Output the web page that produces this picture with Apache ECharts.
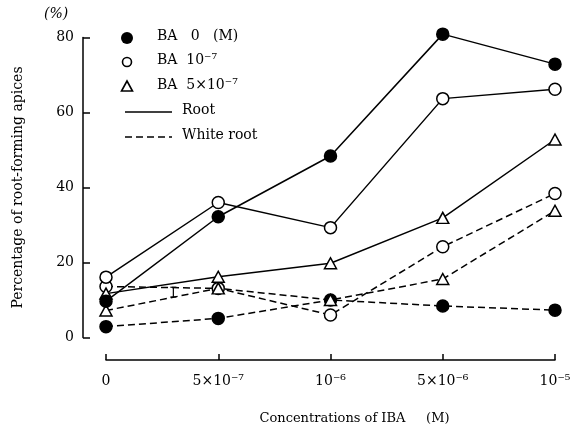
<!DOCTYPE html>
<html>
<head>
<meta charset="utf-8">
<script src="https://cdn.jsdelivr.net/npm/echarts@6/dist/echarts.min.js"></script>
<style>
  html, body { margin: 0; padding: 0; background: #fff; }
  #main { width: 586px; height: 437px; }
</style>
</head>
<body>
<div id="main"></div>
<script>
// IBA concentrations (x positions 0..4 on the axis)
var xLabels = ['0', '5×10⁻⁷', '10⁻⁶', '5×10⁻⁶', '10⁻⁵'];
var yTicks = [0, 20, 40, 60, 80];

// % of root-forming apices
var rootBA0 = [9.7, 32.2, 48.4, 80.9, 72.9];
var rootBA1e7 = [16.1, 36.0, 29.3, 63.7, 66.2];
var rootBA5e7 = [11.7, 16.2, 19.8, 31.9, 52.8];
var whiteBA0 = [2.9, 5.1, 10.0, 8.4, 7.3];
var whiteBA1e7 = [13.6, 13.1, 6.0, 24.2, 38.4];
var whiteBA5e7 = [7.2, 13.1, 10.0, 15.6, 33.8];

// the small "I" bar between 0 and 5x10^-7
var errBar = [[0.6, 10.8, 13.4]];

var FONT = 'DejaVu Serif';

function pts(arr) {
    var out = [];
    for (var i = 0; i < arr.length; i++) out.push([i, arr[i]]);
    return out;
}

var symbolStyle = {
    filled: { symbol: 'circle', symbolSize: 12, color: '#000' },
    open: { symbol: 'circle', symbolSize: 12, color: '#fff' },
    tri: { symbol: 'triangle', symbolSize: [12, 11], color: '#fff' }
};

function mkSeries(name, arr, kind, dashed) {
    var s = symbolStyle[kind];
    return {
        name: name,
        type: 'line',
        data: pts(arr),
        symbol: s.symbol,
        symbolSize: s.symbolSize,
        showAllSymbol: true,
        clip: false,
        animation: false,
        lineStyle: { color: '#000', width: 1.5, type: dashed ? [7, 4] : 'solid' },
        itemStyle: { color: s.color, borderColor: '#000', borderWidth: 1.5 },
        z: dashed ? 2 : 3
    };
}

var chart = echarts.init(document.getElementById('main'));

//图例用graphic手动画
var legendItems = [];
function legendText(x, y, txt) {
    legendItems.push({ type: 'text', left: x, top: y - 9,
        style: { text: txt, font: '14px "' + FONT + '"', fill: '#000' } });
}
legendItems.push({ type: 'circle', shape: { cx: 127, cy: 38, r: 6 }, style: { fill: '#000' } });
legendItems.push({ type: 'circle', shape: { cx: 127, cy: 62, r: 4.5 }, style: { fill: '#fff', stroke: '#000', lineWidth: 1.6 } });
legendItems.push({ type: 'polygon', shape: { points: [[127, 81], [121.5, 91], [132.5, 91]] }, style: { fill: '#fff', stroke: '#000', lineWidth: 1.6 } });
legendItems.push({ type: 'line', shape: { x1: 125, y1: 112, x2: 172, y2: 112 }, style: { stroke: '#000', lineWidth: 1.4 } });
legendItems.push({ type: 'line', shape: { x1: 125, y1: 137, x2: 172, y2: 137 }, style: { stroke: '#000', lineWidth: 1.4, lineDash: [7, 4] } });
legendText(157, 38, 'BA   0   (M)');
legendText(157, 62, 'BA  10⁻⁷');
legendText(157, 87, 'BA  5×10⁻⁷');
legendText(182, 112, 'Root');
legendText(182, 137, 'White root');
legendItems.push({ type: 'text', left: 44, top: 7,
    style: { text: '(%)', font: 'italic 14px "' + FONT + '"', fill: '#000' } });

var option = {
    backgroundColor: '#fff',
    animation: false,
    grid: { left: 106, right: 31, top: 37.5, bottom: 99.5 },
    xAxis: {
        type: 'value',
        min: 0, max: 4, interval: 1,
        offset: 22.5,
        splitLine: { show: false },
        axisLine: { onZero: false, lineStyle: { color: '#000', width: 1.5 } },
        axisTick: { inside: true, length: 6, lineStyle: { color: '#000', width: 1.5 } },
        axisLabel: {
            color: '#000', fontFamily: FONT, fontSize: 14, margin: 14,
            formatter: function (v) { return xLabels[v] || ''; }
        },
        name: 'Concentrations of IBA     (M)',
        nameLocation: 'middle',
        nameGap: 52,
        nameTextStyle: { color: '#000', fontFamily: FONT, fontSize: 13, padding: [0, 0, 0, 48] }
    },
    yAxis: {
        type: 'value',
        min: 0, max: 80, interval: 20,
        offset: 23,
        splitLine: { show: false },
        axisLine: { show: true, onZero: false, lineStyle: { color: '#000', width: 1.5 } },
        axisTick: { show: true, inside: true, length: 7, lineStyle: { color: '#000', width: 1.5 } },
        axisLabel: {
            color: '#000', fontFamily: FONT, fontSize: 14, margin: 9,
            formatter: function (v) { return yTicks.indexOf(v) >= 0 ? String(v) : ''; }
        },
        name: 'Percentage of root-forming apices',
        nameLocation: 'middle',
        nameGap: 58,
        nameTextStyle: { color: '#000', fontFamily: FONT, fontSize: 14 }
    },
    graphic: legendItems,
    series: [
        mkSeries('white BA0', whiteBA0, 'filled', true),
        mkSeries('white BA1e-7', whiteBA1e7, 'open', true),
        mkSeries('white BA5e-7', whiteBA5e7, 'tri', true),
        mkSeries('root BA5e-7', rootBA5e7, 'tri', false),
        mkSeries('root BA1e-7', rootBA1e7, 'open', false),
        mkSeries('root BA0', rootBA0, 'filled', false),
        {
            name: 'error',
            type: 'custom',
            data: errBar,
            animation: false,
            renderItem: function (params, api) {
                var top = api.coord([api.value(0), api.value(2)]);
                var bot = api.coord([api.value(0), api.value(1)]);
                var st = { stroke: '#000', lineWidth: 1.2 };
                return {
                    type: 'group',
                    children: [
                        { type: 'line', shape: { x1: top[0], y1: top[1], x2: bot[0], y2: bot[1] }, style: st },
                        { type: 'line', shape: { x1: top[0] - 3, y1: top[1], x2: top[0] + 3, y2: top[1] }, style: st },
                        { type: 'line', shape: { x1: bot[0] - 3, y1: bot[1], x2: bot[0] + 3, y2: bot[1] }, style: st }
                    ]
                };
            }
        }
    ]
};

chart.setOption(option);
</script>
</body>
</html>
